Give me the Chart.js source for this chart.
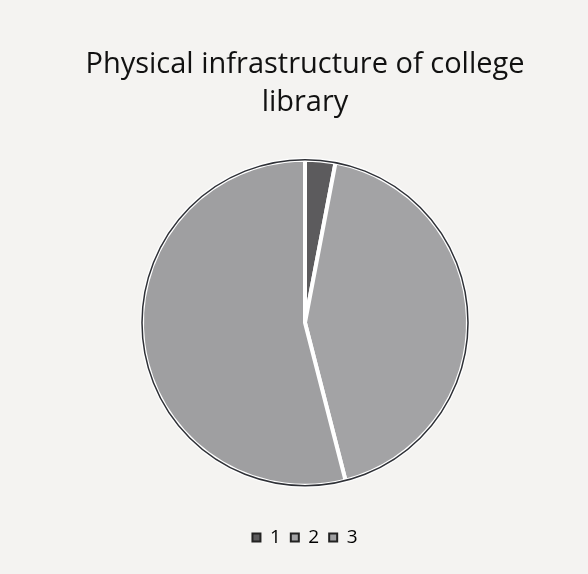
<!DOCTYPE html>
<html>
<head>
<meta charset="utf-8">
<script src="https://cdn.jsdelivr.net/npm/chart.js@4/dist/chart.umd.min.js"></script>
<style>
  html, body { margin: 0; padding: 0; background: #f4f3f1; }
  #wrap { width: 588px; height: 574px; }
</style>
</head>
<body>
<div id="wrap"><canvas id="canvas1"></canvas></div>
<script>
const labels = ['1', '2', '3'];
const values = [3, 43, 54];
const sliceColors = ['#5c5b5d', '#a3a3a5', '#9f9fa1'];

// dark outer rim like the scanned original
const rimPlugin = {
  id: 'rim',
  afterDatasetsDraw(chart) {
    const arc = chart.getDatasetMeta(0).data[0];
    if (!arc) return;
    const c = chart.ctx;
    c.save();
    c.beginPath();
    c.arc(arc.x, arc.y, arc.outerRadius, 0, Math.PI * 2);
    c.strokeStyle = '#2e3036';
    c.lineWidth = 1.5;
    c.stroke();
    c.restore();
  }
};

const canvas = document.getElementById('canvas1');
var ctx = canvas.getContext('2d');

const data = {
  labels: labels,
  datasets: [{
    data: values,
    backgroundColor: sliceColors,
    borderColor: '#ffffff',
    borderWidth: 4
  }]
};

const options = {
  responsive: true,
  maintainAspectRatio: false,
  animation: false,
  radius: 163,
  layout: { padding: { top: 46, bottom: 17, left: 32, right: 10 } },
  plugins: {
    title: {
      display: true,
      text: ['Physical infrastructure of college', 'library'],
      color: '#111111',
      font: { family: 'Open Sans', size: 29, weight: 'normal', lineHeight: 1.3 },
      padding: { top: 0, bottom: 6 }
    },
    legend: {
      position: 'bottom',
      labels: {
        color: '#111111',
        font: { family: 'Open Sans', size: 19 },
        boxWidth: 8,
        boxHeight: 8,
        padding: 10,
        generateLabels(chart) {
          return labels.map((l, i) => ({
            text: l,
            fillStyle: sliceColors[i],
            strokeStyle: '#222222',
            lineWidth: 2,
            index: i
          }));
        }
      }
    },
    tooltip: { enabled: false }
  }
};

const config = {
  type: 'pie',
  data: data,
  options: options,
  plugins: [rimPlugin]
};
var myChart = new Chart(ctx, config);
</script>
</body>
</html>
